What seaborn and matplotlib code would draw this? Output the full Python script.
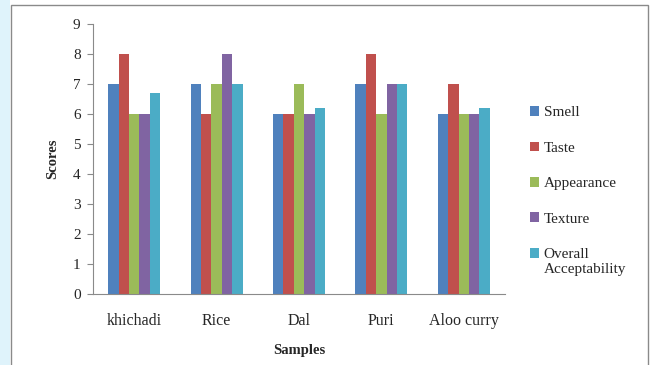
import matplotlib
matplotlib.use("Agg")
import matplotlib.pyplot as plt
import seaborn as sns
import pandas as pd
from matplotlib.patches import Rectangle

samples = ["khichadi", "Rice", "Dal", "Puri", "Aloo curry"]
attributes = ["Smell", "Taste", "Appearance", "Texture", "Overall\nAcceptability"]
smell = [7, 7, 6, 7, 6]
taste = [8, 6, 6, 8, 7]
appearance = [6, 7, 7, 6, 6]
texture = [6, 8, 6, 7, 6]
overall = [6.7, 7, 6.2, 7, 6.2]
colors = ["#4F81BD", "#C0504D", "#9BBB59", "#8064A2", "#4BACC6"]

series = [smell, taste, appearance, texture, overall]
rows = []
for attr, vals in zip(attributes, series):
    for s, v in zip(samples, vals):
        rows.append({"Samples": s, "Scores": v, "Attribute": attr})
df = pd.DataFrame(rows)

sns.set_style("white")
plt.rcParams["font.family"] = ["Liberation Serif", "DejaVu Serif"]

fig = plt.figure(figsize=(6.55, 3.65), dpi=100)
fig.patch.set_facecolor("white")
# light blue margin strip and chart frame
fig.patches.append(Rectangle((0, 0), 10/655, 1, transform=fig.transFigure,
                             facecolor="#dff3fb", edgecolor="none", zorder=-10))
fig.patches.append(Rectangle((11/655, -0.05), (648-11)/655, 1 - 5/365 + 0.05,
                             transform=fig.transFigure, facecolor="white",
                             edgecolor="#8a8a8a", linewidth=1.0, zorder=-9))

ax = fig.add_axes([93/655, 71/365, 412/655, 270/365])
ax.set_zorder(5)
sns.barplot(data=df, x="Samples", y="Scores", hue="Attribute",
            palette=colors, width=0.63, gap=0, ax=ax, saturation=1,
            edgecolor="none", linewidth=0)
ax.set_ylim(0, 9)
ax.set_yticks(range(0, 10))
ax.set_xlim(-0.5, 4.5)
for sp in ["top", "right"]:
    ax.spines[sp].set_visible(False)
for sp in ["left", "bottom"]:
    ax.spines[sp].set_color("#8a8a8a")
    ax.spines[sp].set_linewidth(0.8)
ax.tick_params(axis="y", which="both", left=True, length=4, width=0.8,
               color="#8a8a8a", labelsize=11, pad=5)
ax.tick_params(axis="x", bottom=False, labelsize=11.5, pad=10)
ax.set_xlabel("Samples", fontsize=10.5, fontweight="bold", labelpad=11)
ax.set_ylabel("Scores", fontsize=10.5, fontweight="bold", labelpad=10)
ax.set_facecolor("none")

handles, labels = ax.get_legend_handles_labels()
ax.get_legend().remove()
leg = fig.legend(handles, labels, loc="upper left", bbox_to_anchor=(524/655, 1 - 100/365),
                 frameon=False, fontsize=11, handlelength=0.6, handleheight=0.6,
                 handletextpad=0.3, labelspacing=1.45, borderaxespad=0)
leg.set_zorder(6)
last = leg.legend_handles[-1]
last.set_y(last.get_y() + 6.0)

fig.savefig("out.png", dpi=100, facecolor=fig.get_facecolor())
